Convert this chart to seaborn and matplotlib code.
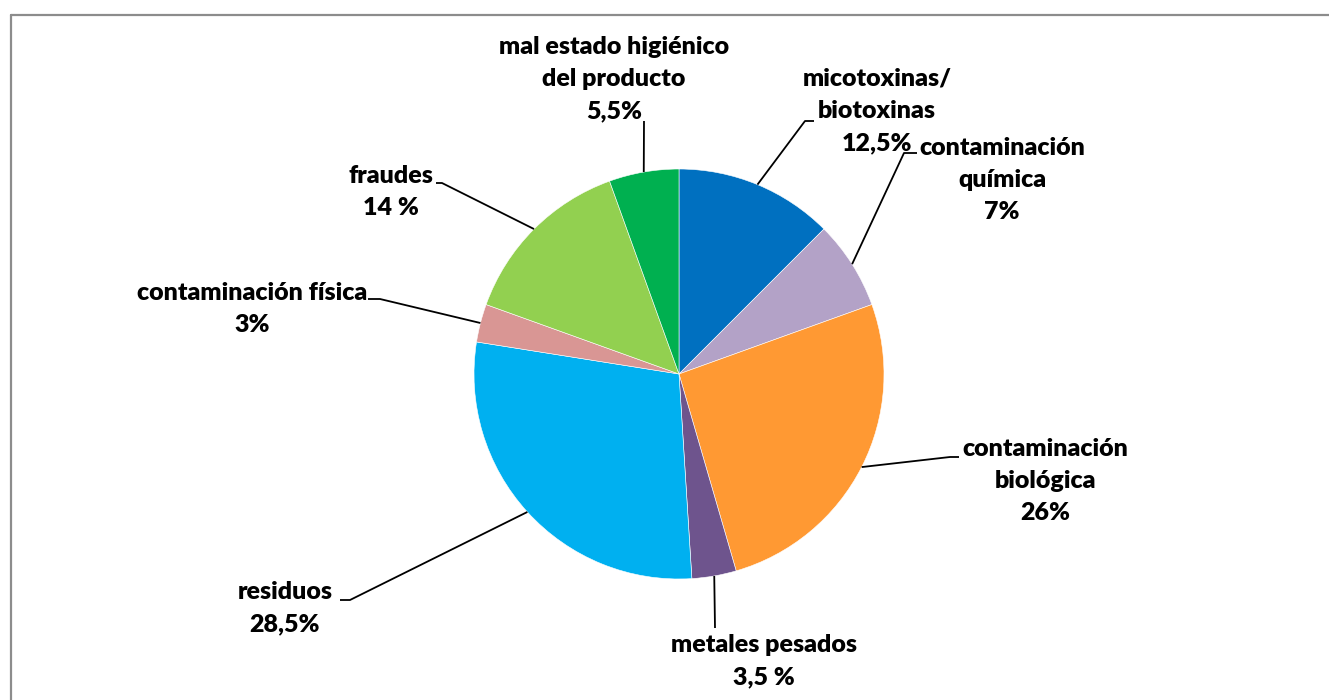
import numpy as np
import seaborn as sns
import matplotlib
matplotlib.use("Agg")
import matplotlib.pyplot as plt
from matplotlib.lines import Line2D

# datos
categorias = ["micotoxinas/\nbiotoxinas", "contaminación\nquímica", "contaminación\nbiológica",
              "metales pesados", "residuos", "contaminación física", "fraudes",
              "mal estado higiénico\ndel producto"]
porcentajes = [12.5, 7, 26, 3.5, 28.5, 3, 14, 5.5]
etiquetas_pct = ["12,5%", "7%", "26%", "3,5 %", "28,5%", "3%", "14 %", "5,5%"]
colores = ["#0070C0", "#B3A2C7", "#FF9933", "#6E548D", "#00B0F0", "#D99694", "#92D050", "#00B050"]

# posiciones de las etiquetas en pixeles (centro del texto, codo de la linea guia, fin de la linea)
texto_xy = [(877, 111), (1002, 180), (1045, 481), (764, 661), (285, 608), (252, 309), (391, 192), (614, 79)]
codo_xy = [(805, 121), (904, 153), (950, 457), (715, 628), (350, 600), (380, 299), (442, 183), (644, 121)]
fin_xy = [(814, 121), (917, 153), (959, 457), (715, 628), (340, 600), (368, 299), (436, 183), (644, 121)]

W, H = 1329, 700
cx, cy, R = 679, 374, 205

sns.set_theme(style="white")
plt.rcParams["font.family"] = ["Lato", "DejaVu Sans"]

fig = plt.figure(figsize=(W / 100, H / 100), dpi=100)
ax = fig.add_axes([0, 0, 1, 1])

wedges, _ = ax.pie(porcentajes, colors=colores, startangle=90, counterclock=False,
                   radius=1, wedgeprops=dict(edgecolor="white", linewidth=0.4))

ax.set_xlim(-cx / R, (W - cx) / R)
ax.set_ylim(-(H - cy) / R, cy / R)
ax.set_aspect("equal")
ax.axis("off")


def px(p):
    return ((p[0] - cx) / R, (cy - p[1]) / R)


for w, cat, pct, t, c, f in zip(wedges, categorias, etiquetas_pct, texto_xy, codo_xy, fin_xy):
    ang = np.deg2rad((w.theta1 + w.theta2) / 2)
    borde = (np.cos(ang), np.sin(ang))
    c2, f2 = px(c), px(f)
    ax.plot([borde[0], c2[0], f2[0]], [borde[1], c2[1], f2[1]], color="black", lw=1.3,
            solid_capstyle="butt")
    tx, ty = px(t)
    ax.text(tx, ty, cat + "\n" + pct, ha="center", va="center", fontsize=18,
            fontweight="heavy", linespacing=1.56, color="black")

# marco
gris = "#8c8c8c"
fig.add_artist(Line2D([11 / W, 11 / W], [0, 1 - 15 / H], color=gris, lw=1.6, transform=fig.transFigure))
fig.add_artist(Line2D([11 / W, 1], [1 - 15 / H, 1 - 15 / H], color=gris, lw=1.6, transform=fig.transFigure))

fig.savefig("out.png", dpi=100)
